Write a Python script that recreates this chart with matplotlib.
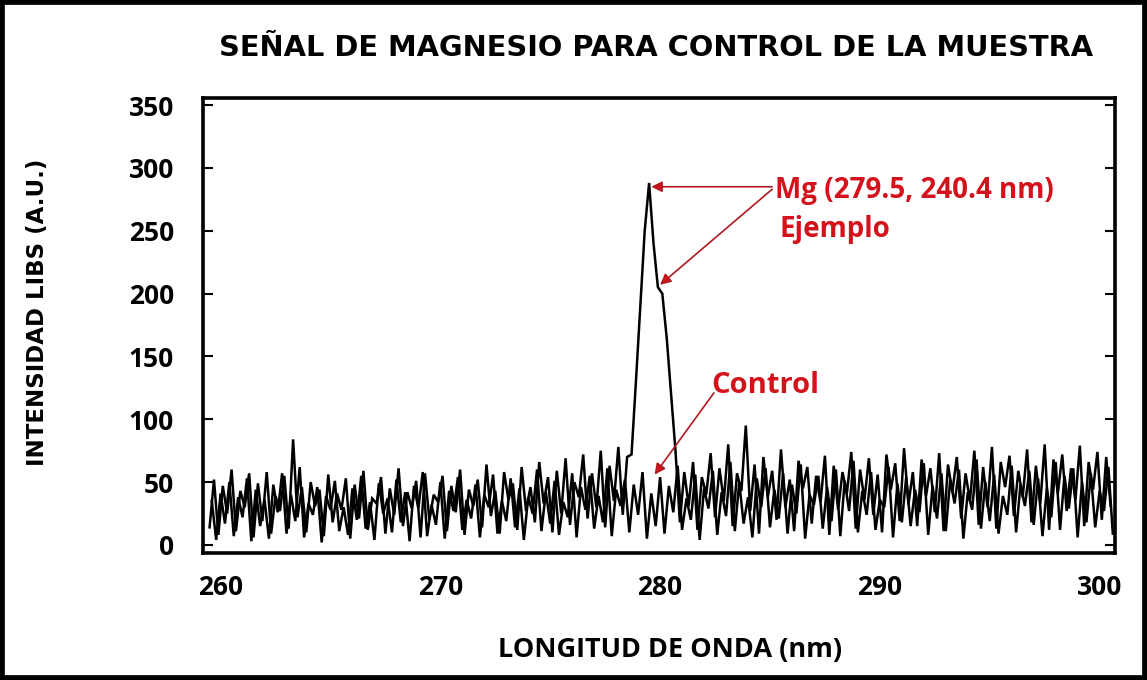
import numpy as np
import matplotlib
matplotlib.use("Agg")
import matplotlib.pyplot as plt
from matplotlib.patches import Rectangle

# ---------------- data ----------------
x_start_muestra = 259.5
x_start_control = 259.6
x_step = 0.2

muestra = [
    14, 52, 8, 47, 25, 60, 11, 43, 30, 57,
    6, 49, 19, 58, 9, 39, 27, 55, 13, 84,
    22, 46, 10, 50, 31, 44, 7, 56, 18, 41,
    28, 53, 5, 48, 21, 59, 12, 37, 33, 54,
    9, 45, 24, 61, 15, 42, 29, 51, 6, 57,
    20, 40, 34, 55, 11, 47, 26, 60, 8, 44,
    31, 52, 14, 64, 23, 43, 9, 58, 36, 49,
    12, 62, 27, 46, 18, 66, 33, 54, 10, 59,
    25, 69, 16, 50, 38, 72, 21, 57, 30, 75,
    14, 63, 35, 78, 24, 70,
    72, 130, 190, 250, 288, 240, 205, 200, 165, 120, 75,
    18, 58, 31, 66, 12, 54, 40, 73, 22, 61,
    35, 80, 15, 57, 43, 95, 27, 64, 9, 70,
    38, 59, 20, 76, 30, 52, 11, 67, 45, 62,
    17, 55, 34, 71, 8, 63, 28, 58, 41, 74,
    13, 60, 36, 69, 24, 56, 10, 72, 44, 65,
    19, 77, 32, 58, 15, 68, 39, 61, 26, 73,
    11, 64, 42, 70, 21, 57, 35, 75, 16, 62,
    30, 78, 13, 66, 46, 71, 23, 59, 38, 76,
    18, 63, 33, 80, 12, 68, 41, 72, 27, 61,
    36, 79, 15, 66, 44, 74, 20, 70, 31,
]

control = [
    35, 4, 41, 17, 50, 7, 38, 22, 53, 3,
    44, 15, 36, 5, 48, 26, 57, 9, 40, 19,
    62, 6, 33, 24, 46, 2, 39, 28, 51, 11,
    30, 8, 45, 20, 55, 13, 34, 4, 49, 25,
    37, 10, 52, 18, 42, 3, 47, 29, 58, 7,
    32, 16, 50, 5, 43, 27, 54, 12, 36, 21,
    48, 6, 40, 30, 56, 9, 35, 19, 53, 14,
    45, 4, 38, 25, 60, 11, 42, 17, 51, 8,
    34, 22, 57, 6, 46, 28, 55, 13, 39, 18,
    61, 7, 44, 31, 52, 10, 48, 24, 58, 5,
    41, 15, 54, 9, 47, 26, 63, 12, 37, 20,
    56, 4, 45, 29, 59, 8, 42, 23, 66, 11,
    50, 17, 38, 6, 53, 30, 61, 14, 44, 21,
    57, 9, 48, 25, 64, 5, 40, 32, 55, 13,
    46, 19, 60, 7, 51, 27, 67, 10, 43, 24,
    58, 12, 36, 30, 62, 6, 49, 18, 54, 15,
    44, 26, 65, 8, 47, 21, 57, 11, 52, 33,
    60, 5, 42, 28, 68, 13, 50, 19, 56, 9,
    39, 24, 63, 10, 48, 31, 59, 16, 53, 7,
    45, 22, 66, 12, 55, 29, 61, 6, 50, 18,
    57, 14, 43, 27, 62, 9,
]

x_ticks = [260, 270, 280, 290, 300]
y_ticks = [0, 50, 100, 150, 200, 250, 300, 350]

title = "SEÑAL DE MAGNESIO PARA CONTROL DE LA MUESTRA"
xlabel = "LONGITUD DE ONDA (nm)"
ylabel = "INTENSIDAD LIBS (A.U.)"
label_mg = "Mg (279.5, 240.4 nm)"
label_ej = "Ejemplo"
label_ctrl = "Control"
peak_main = (279.6, 285)
peak_shoulder = (280.0, 207)
control_point = (279.75, 56)

# ---------------- figure ----------------
x_m = x_start_muestra + x_step * np.arange(len(muestra))
x_c = x_start_control + x_step * np.arange(len(control))

fig = plt.figure(figsize=(11.47, 6.80), dpi=100)
fig.patch.set_facecolor("white")
ax = fig.add_axes([203/1147, 1-553/680, (1115-203)/1147, (553-98)/680])

ax.plot(x_c, control, color="black", lw=1.8, solid_joinstyle="miter")
ax.plot(x_m, muestra, color="black", lw=1.8, solid_joinstyle="miter")

ax.set_xlim(259.2, 300.7)
ax.set_ylim(-6.4, 355.6)
ax.set_xticks(x_ticks)
ax.set_yticks(y_ticks)
for s in ax.spines.values():
    s.set_linewidth(2.6)
    s.set_color("black")

tick_font = dict(family="Open Sans", weight="bold", size=19)
ax.set_xticklabels([str(t) for t in x_ticks], **tick_font)
ax.set_yticklabels([str(t) for t in y_ticks], **tick_font)
ax.tick_params(axis="x", length=0, pad=15)
ax.tick_params(axis="y", direction="in", length=7, width=1.5, pad=21,
               left=True, right=True)

fig.text(656/1147, 1-48/680, title, ha="center", va="center",
         family="DejaVu Sans", weight="bold", size=20.8)
fig.text(670/1147, 1-650/680, xlabel, ha="center", va="center",
         family="Open Sans", weight="bold", size=19.5)
fig.text(38/1147, 1-312/680, ylabel, ha="center", va="center", rotation=90,
         family="DejaVu Sans", weight="bold", size=16.5)

red = "#d4121c"
arrow_col = "#b01a20"
ax.text(285.25, 282, label_mg, ha="left", va="center",
        family="Open Sans", weight="bold", size=20, color=red)
ax.text(285.45, 251, label_ej, ha="left", va="center",
        family="Open Sans", weight="bold", size=20, color=red)
ax.text(282.35, 127, label_ctrl, ha="left", va="center",
        family="Open Sans", weight="bold", size=21, color=red)

ap = dict(arrowstyle="-|>", color=arrow_col, lw=1.2, mutation_scale=16,
          shrinkA=0, shrinkB=0)
ax.annotate("", xy=peak_main, xytext=(285.1, 285), arrowprops=dict(ap, fc=red))
ax.annotate("", xy=peak_shoulder, xytext=(285.1, 283), arrowprops=dict(ap, fc=red))
ax.annotate("", xy=control_point, xytext=(282.45, 121), arrowprops=dict(ap, fc=red))

fig.patches.append(Rectangle((0, 0), 1, 1, transform=fig.transFigure,
                             fill=False, lw=7, ec="black"))

fig.savefig("out.png", dpi=100, facecolor="white")
